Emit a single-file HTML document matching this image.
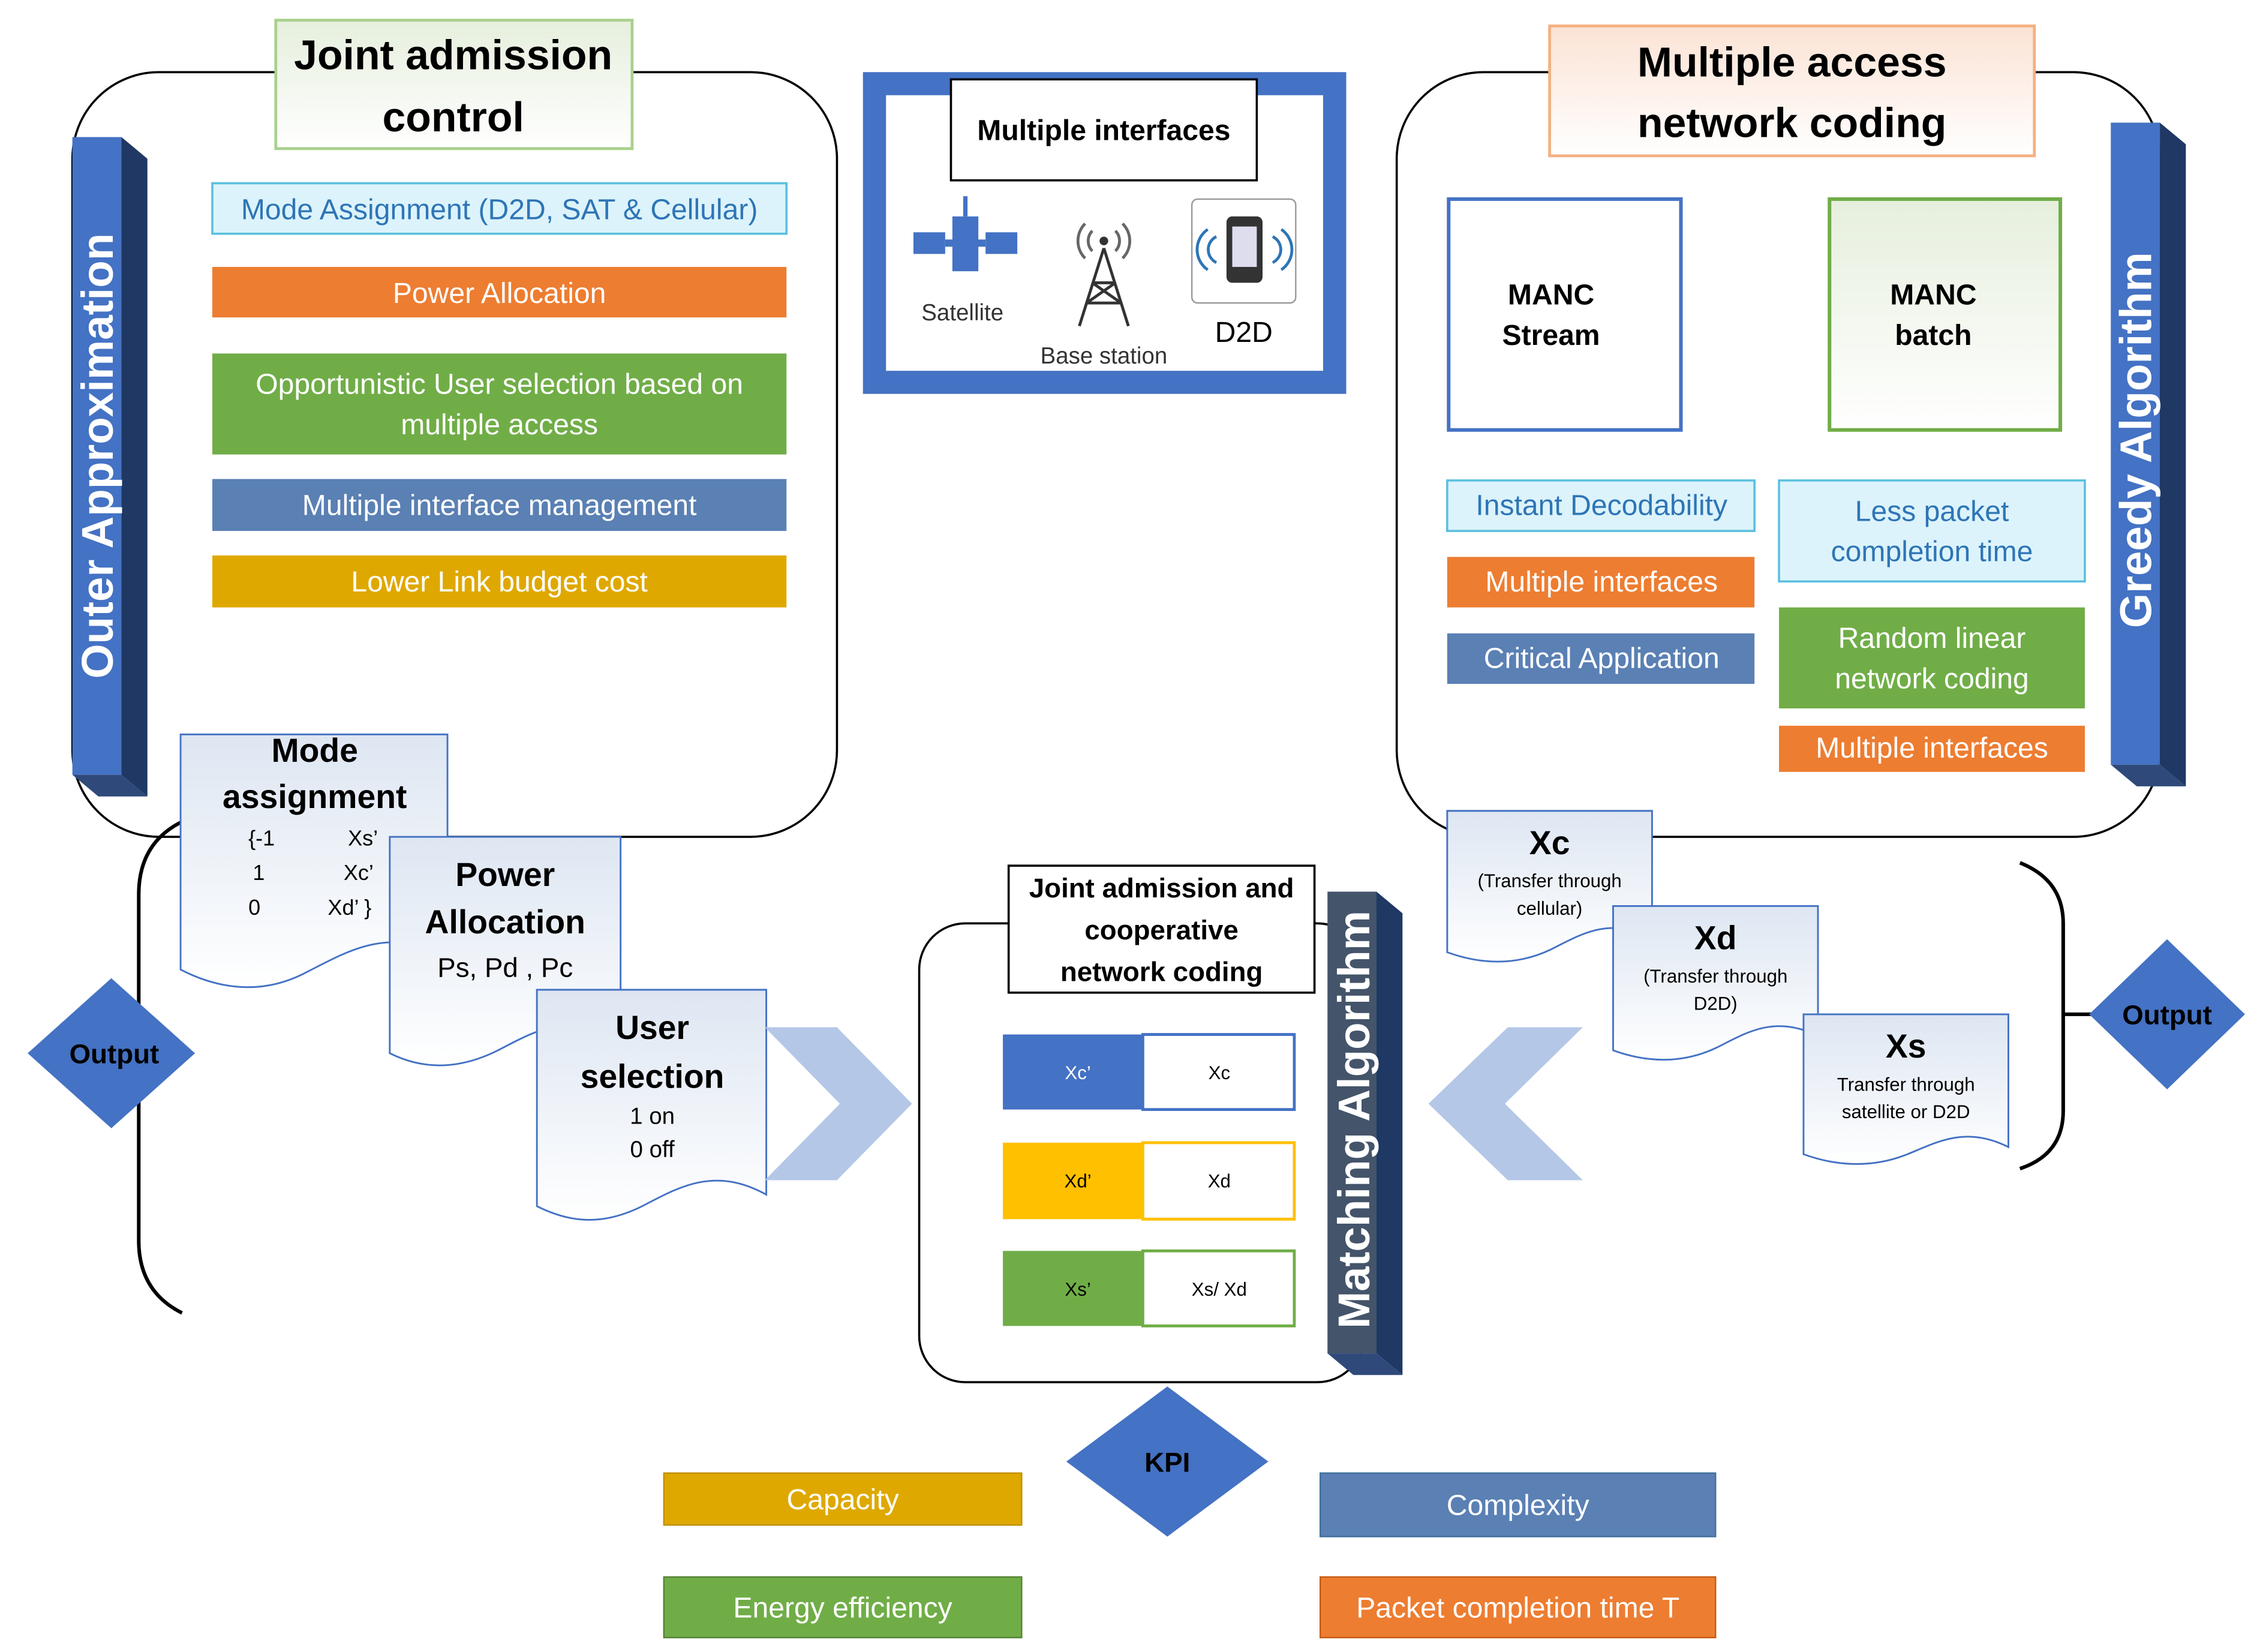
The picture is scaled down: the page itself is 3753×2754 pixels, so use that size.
<!DOCTYPE html>
<html><head><meta charset="utf-8"><style>
html,body{margin:0;padding:0;background:#fff}
svg{display:block}
text{font-family:"Liberation Sans",sans-serif}
</style></head><body>
<svg width="3753" height="2754" viewBox="0 0 1560 1145" xmlns="http://www.w3.org/2000/svg">
<defs>
<linearGradient id="gg" x1="0" y1="0" x2="0" y2="1"><stop offset="0" stop-color="#e6efdd"/><stop offset="1" stop-color="#ffffff"/></linearGradient>
<linearGradient id="pg" x1="0" y1="0" x2="0" y2="1"><stop offset="0" stop-color="#fbe3d5"/><stop offset="1" stop-color="#ffffff"/></linearGradient>
<linearGradient id="dg" x1="0" y1="0" x2="0" y2="1"><stop offset="0" stop-color="#dde6f2"/><stop offset="1" stop-color="#ffffff"/></linearGradient>
</defs>
<rect x="50" y="50" width="530" height="530" rx="60" fill="none" stroke="#000" stroke-width="1.5"/>
<rect x="191" y="14" width="247" height="89" fill="url(#gg)" stroke="#a9d18e" stroke-width="2"/>
<text x="314" y="48" font-size="29" font-weight="bold" text-anchor="middle">Joint admission</text>
<text x="314" y="91" font-size="29" font-weight="bold" text-anchor="middle">control</text>
<polygon points="84,95 102,110 102,552 84,537" fill="#1f3864"/>
<polygon points="50,537 84,537 102,552 68,552" fill="#2f4a7a"/>
<rect x="50" y="95" width="34" height="442" fill="#4472c4"/>
<text transform="translate(78,316) rotate(-90)" font-size="31" font-weight="bold" fill="#fff" text-anchor="middle">Outer Approximation</text>
<rect x="147" y="127" width="398" height="35" fill="#dcf3fb" stroke="#5bc0de" stroke-width="1.5"/>
<text x="346" y="152" font-size="20" fill="#2e75b6" text-anchor="middle">Mode Assignment (D2D, SAT &amp; Cellular)</text>
<rect x="147" y="185" width="398" height="35" fill="#ed7d31"/>
<text x="346" y="210" font-size="20" fill="#fff" text-anchor="middle">Power Allocation</text>
<rect x="147" y="245" width="398" height="70" fill="#70ad47"/>
<text x="346" y="273" font-size="20" fill="#fff" text-anchor="middle">Opportunistic User selection based on</text>
<text x="346" y="301" font-size="20" fill="#fff" text-anchor="middle">multiple access</text>
<rect x="147" y="332" width="398" height="36" fill="#5a80b4"/>
<text x="346" y="357" font-size="20" fill="#fff" text-anchor="middle">Multiple interface management</text>
<rect x="147" y="385" width="398" height="36" fill="#dfa800"/>
<text x="346" y="410" font-size="20" fill="#fff" text-anchor="middle">Lower Link budget cost</text>
<rect x="606" y="58" width="319" height="207" fill="#fff" stroke="#4472c4" stroke-width="16"/>
<rect x="659" y="55" width="212" height="70" fill="#fff" stroke="#000" stroke-width="1.5"/>
<text x="765" y="97" font-size="20" font-weight="bold" text-anchor="middle">Multiple interfaces</text>
<rect x="633" y="161" width="22" height="15" fill="#4472c4"/><rect x="683" y="161" width="22" height="15" fill="#4472c4"/>
<rect x="660" y="150" width="18" height="38" fill="#4472c4"/><rect x="655" y="166" width="28" height="5" fill="#4472c4"/>
<line x1="669" y1="136" x2="669" y2="150" stroke="#4472c4" stroke-width="3"/>
<text x="667" y="222" font-size="16" fill="#333" text-anchor="middle">Satellite</text>
<g stroke="#333" stroke-width="2" fill="none">
<path d="M765,172 L748,226 M765,172 L782,226 M753,210 L777,210 M757,196 L773,196 M753,210 L773,196 M757,196 L777,210"/>
<path d="M757,160 a10,10 0 0 0 0,14 M773,160 a10,10 0 0 1 0,14 M752,155 a17,17 0 0 0 0,24 M778,155 a17,17 0 0 1 0,24" stroke="#666"/>
</g>
<circle cx="765" cy="167" r="3" fill="#333"/>
<text x="765" y="252" font-size="16" fill="#333" text-anchor="middle">Base station</text>
<rect x="826" y="138" width="72" height="72" rx="4" fill="#fff" stroke="#999"/>
<rect x="850" y="150" width="25" height="46" rx="4" fill="#333"/><rect x="854" y="157" width="17" height="28" fill="#dde"/>
<g stroke="#2e75b6" stroke-width="2" fill="none"><path d="M843,164 a10,10 0 0 0 0,18 M837,159 a17,17 0 0 0 0,28 M882,164 a10,10 0 0 1 0,18 M888,159 a17,17 0 0 1 0,28"/></g>
<text x="862" y="237" font-size="20" text-anchor="middle">D2D</text>
<rect x="968" y="50" width="529" height="530" rx="60" fill="none" stroke="#000" stroke-width="1.5"/>
<rect x="1074" y="18" width="336" height="90" fill="url(#pg)" stroke="#f4b183" stroke-width="2"/>
<text x="1242" y="53" font-size="29" font-weight="bold" text-anchor="middle">Multiple access</text>
<text x="1242" y="95" font-size="29" font-weight="bold" text-anchor="middle">network coding</text>
<polygon points="1497,85 1515,100 1515,545 1497,530" fill="#1f3864"/>
<polygon points="1463,530 1497,530 1515,545 1481,545" fill="#2f4a7a"/>
<rect x="1463" y="85" width="34" height="445" fill="#4472c4"/>
<text transform="translate(1491,305) rotate(-90)" font-size="31" font-weight="bold" fill="#fff" text-anchor="middle">Greedy Algorithm</text>
<rect x="1004" y="138" width="161" height="160" fill="#fff" stroke="#4472c4" stroke-width="2.5"/>
<text x="1075" y="211" font-size="20" font-weight="bold" text-anchor="middle">MANC</text>
<text x="1075" y="239" font-size="20" font-weight="bold" text-anchor="middle">Stream</text>
<rect x="1268" y="138" width="160" height="160" fill="url(#gg)" stroke="#70ad47" stroke-width="2.5"/>
<text x="1340" y="211" font-size="20" font-weight="bold" text-anchor="middle">MANC</text>
<text x="1340" y="239" font-size="20" font-weight="bold" text-anchor="middle">batch</text>
<rect x="1003" y="333" width="213" height="35" fill="#dcf3fb" stroke="#5bc0de" stroke-width="1.5"/>
<text x="1110" y="357" font-size="20" fill="#2e75b6" text-anchor="middle">Instant Decodability</text>
<rect x="1003" y="386" width="213" height="35" fill="#ed7d31"/>
<text x="1110" y="410" font-size="20" fill="#fff" text-anchor="middle">Multiple interfaces</text>
<rect x="1003" y="439" width="213" height="35" fill="#5a80b4"/>
<text x="1110" y="463" font-size="20" fill="#fff" text-anchor="middle">Critical Application</text>
<rect x="1233" y="333" width="212" height="70" fill="#dcf3fb" stroke="#5bc0de" stroke-width="1.5"/>
<text x="1339" y="361" font-size="20" fill="#2e75b6" text-anchor="middle">Less packet</text>
<text x="1339" y="389" font-size="20" fill="#2e75b6" text-anchor="middle">completion time</text>
<rect x="1233" y="421" width="212" height="70" fill="#70ad47"/>
<text x="1339" y="449" font-size="20" fill="#fff" text-anchor="middle">Random linear</text>
<text x="1339" y="477" font-size="20" fill="#fff" text-anchor="middle">network coding</text>
<rect x="1233" y="503" width="212" height="32" fill="#ed7d31"/>
<text x="1339" y="525" font-size="20" fill="#fff" text-anchor="middle">Multiple interfaces</text>
<path d="M125,570 Q96,585 96,620 L96,860 Q96,895 126,910" fill="none" stroke="#000" stroke-width="2.5"/>
<polygon points="77,678 135,730 77,782 19,730" fill="#4472c4"/>
<text x="79" y="737" font-size="19" font-weight="bold" text-anchor="middle">Output</text>
<g stroke="#4472c4" stroke-width="1.2">
<path d="M125,509 H310 V665 C270,640 240,660 210,675 C180,690 150,685 125,672 Z" fill="url(#dg)"/>
<path d="M270,580 H430 V720 C395,700 370,715 345,728 C315,743 290,740 270,730 Z" fill="url(#dg)"/>
<path d="M372,686 H531 V828 C495,808 470,823 445,836 C415,851 392,846 372,836 Z" fill="url(#dg)"/>
</g>
<text x="218" y="528" font-size="23" font-weight="bold" text-anchor="middle">Mode</text>
<text x="218" y="560" font-size="23" font-weight="bold" text-anchor="middle">assignment</text>
<g font-size="15"><text x="172" y="586">{-1</text><text x="241" y="586">Xs’</text><text x="175" y="610">1</text><text x="238" y="610">Xc’</text><text x="172" y="634">0</text><text x="227" y="634">Xd’ }</text></g>
<text x="350" y="614" font-size="23" font-weight="bold" text-anchor="middle">Power</text>
<text x="350" y="647" font-size="23" font-weight="bold" text-anchor="middle">Allocation</text>
<text x="350" y="677" font-size="19" text-anchor="middle">Ps, Pd , Pc</text>
<text x="452" y="720" font-size="23" font-weight="bold" text-anchor="middle">User</text>
<text x="452" y="754" font-size="23" font-weight="bold" text-anchor="middle">selection</text>
<text x="452" y="779" font-size="16" text-anchor="middle">1 on</text>
<text x="452" y="802" font-size="16" text-anchor="middle">0 off</text>
<polygon points="530,712 580,712 632,765 580,818 530,818 582,765" fill="#b4c7e7"/>
<polygon points="1097,712 1045,712 990,765 1045,818 1097,818 1043,765" fill="#b4c7e7"/>
<rect x="637" y="640" width="308" height="318" rx="32" fill="none" stroke="#000" stroke-width="1.5"/>
<rect x="699" y="600" width="212" height="88" fill="#fff" stroke="#000" stroke-width="1.5"/>
<text x="805" y="622" font-size="19" font-weight="bold" text-anchor="middle">Joint admission and</text>
<text x="805" y="651" font-size="19" font-weight="bold" text-anchor="middle">cooperative</text>
<text x="805" y="680" font-size="19" font-weight="bold" text-anchor="middle">network coding</text>
<polygon points="954,618 972,633 972,953 954,938" fill="#1f3864"/>
<polygon points="920,938 954,938 972,953 938,953" fill="#2f4a7a"/>
<rect x="920" y="618" width="34" height="320" fill="#44546a"/>
<text transform="translate(949,776) rotate(-90)" font-size="31" font-weight="bold" fill="#fff" text-anchor="middle">Matching Algorithm</text>
<rect x="695" y="717" width="97" height="52" fill="#4472c4"/><rect x="792" y="717" width="105" height="52" fill="#fff" stroke="#4472c4" stroke-width="2"/>
<text x="747" y="748" font-size="13" fill="#fff" text-anchor="middle">Xc’</text><text x="845" y="748" font-size="13" text-anchor="middle">Xc</text>
<rect x="695" y="792" width="97" height="53" fill="#ffc000"/><rect x="792" y="792" width="105" height="53" fill="#fff" stroke="#ffc000" stroke-width="2"/>
<text x="747" y="823" font-size="13" text-anchor="middle">Xd’</text><text x="845" y="823" font-size="13" text-anchor="middle">Xd</text>
<rect x="695" y="867" width="97" height="52" fill="#70ad47"/><rect x="792" y="867" width="105" height="52" fill="#fff" stroke="#70ad47" stroke-width="2"/>
<text x="747" y="898" font-size="13" text-anchor="middle">Xs’</text><text x="845" y="898" font-size="13" text-anchor="middle">Xs/ Xd</text>
<g stroke="#4472c4" stroke-width="1.2">
<path d="M1003,562 H1145 V650 C1115,635 1095,648 1075,658 C1050,670 1025,668 1003,660 Z" fill="url(#dg)"/>
<path d="M1118,628 H1260 V718 C1230,703 1210,716 1190,726 C1165,738 1140,736 1118,728 Z" fill="url(#dg)"/>
<path d="M1250,703 H1392 V795 C1362,780 1342,792 1322,800 C1297,810 1272,808 1250,800 Z" fill="url(#dg)"/>
</g>
<text x="1074" y="592" font-size="23" font-weight="bold" text-anchor="middle">Xc</text>
<text x="1074" y="615" font-size="13" text-anchor="middle">(Transfer through</text>
<text x="1074" y="634" font-size="13" text-anchor="middle">cellular)</text>
<text x="1189" y="658" font-size="23" font-weight="bold" text-anchor="middle">Xd</text>
<text x="1189" y="681" font-size="13" text-anchor="middle">(Transfer through</text>
<text x="1189" y="700" font-size="13" text-anchor="middle">D2D)</text>
<text x="1321" y="733" font-size="23" font-weight="bold" text-anchor="middle">Xs</text>
<text x="1321" y="756" font-size="13" text-anchor="middle">Transfer through</text>
<text x="1321" y="775" font-size="13" text-anchor="middle">satellite or D2D</text>
<path d="M1400,598 Q1430,610 1430,640 L1430,770 Q1430,800 1400,810" fill="none" stroke="#000" stroke-width="2.5"/>
<line x1="1430" y1="703" x2="1455" y2="703" stroke="#000" stroke-width="2.5"/>
<polygon points="1502,651 1556,703 1502,755 1448,703" fill="#4472c4"/>
<text x="1502" y="710" font-size="19" font-weight="bold" text-anchor="middle">Output</text>
<polygon points="809,961 879,1013 809,1065 739,1013" fill="#4472c4"/>
<text x="809" y="1020" font-size="19" font-weight="bold" text-anchor="middle">KPI</text>
<rect x="460" y="1021" width="248" height="36" fill="#dfa800" stroke="#bf9000"/>
<text x="584" y="1046" font-size="20" fill="#fff" text-anchor="middle">Capacity</text>
<rect x="460" y="1093" width="248" height="42" fill="#70ad47" stroke="#548235"/>
<text x="584" y="1121" font-size="20" fill="#fff" text-anchor="middle">Energy efficiency</text>
<rect x="915" y="1021" width="274" height="44" fill="#5a80b4" stroke="#41719c"/>
<text x="1052" y="1050" font-size="20" fill="#fff" text-anchor="middle">Complexity</text>
<rect x="915" y="1093" width="274" height="42" fill="#ed7d31" stroke="#c55a11"/>
<text x="1052" y="1121" font-size="20" fill="#fff" text-anchor="middle">Packet completion time T</text>
</svg>
</body></html>
